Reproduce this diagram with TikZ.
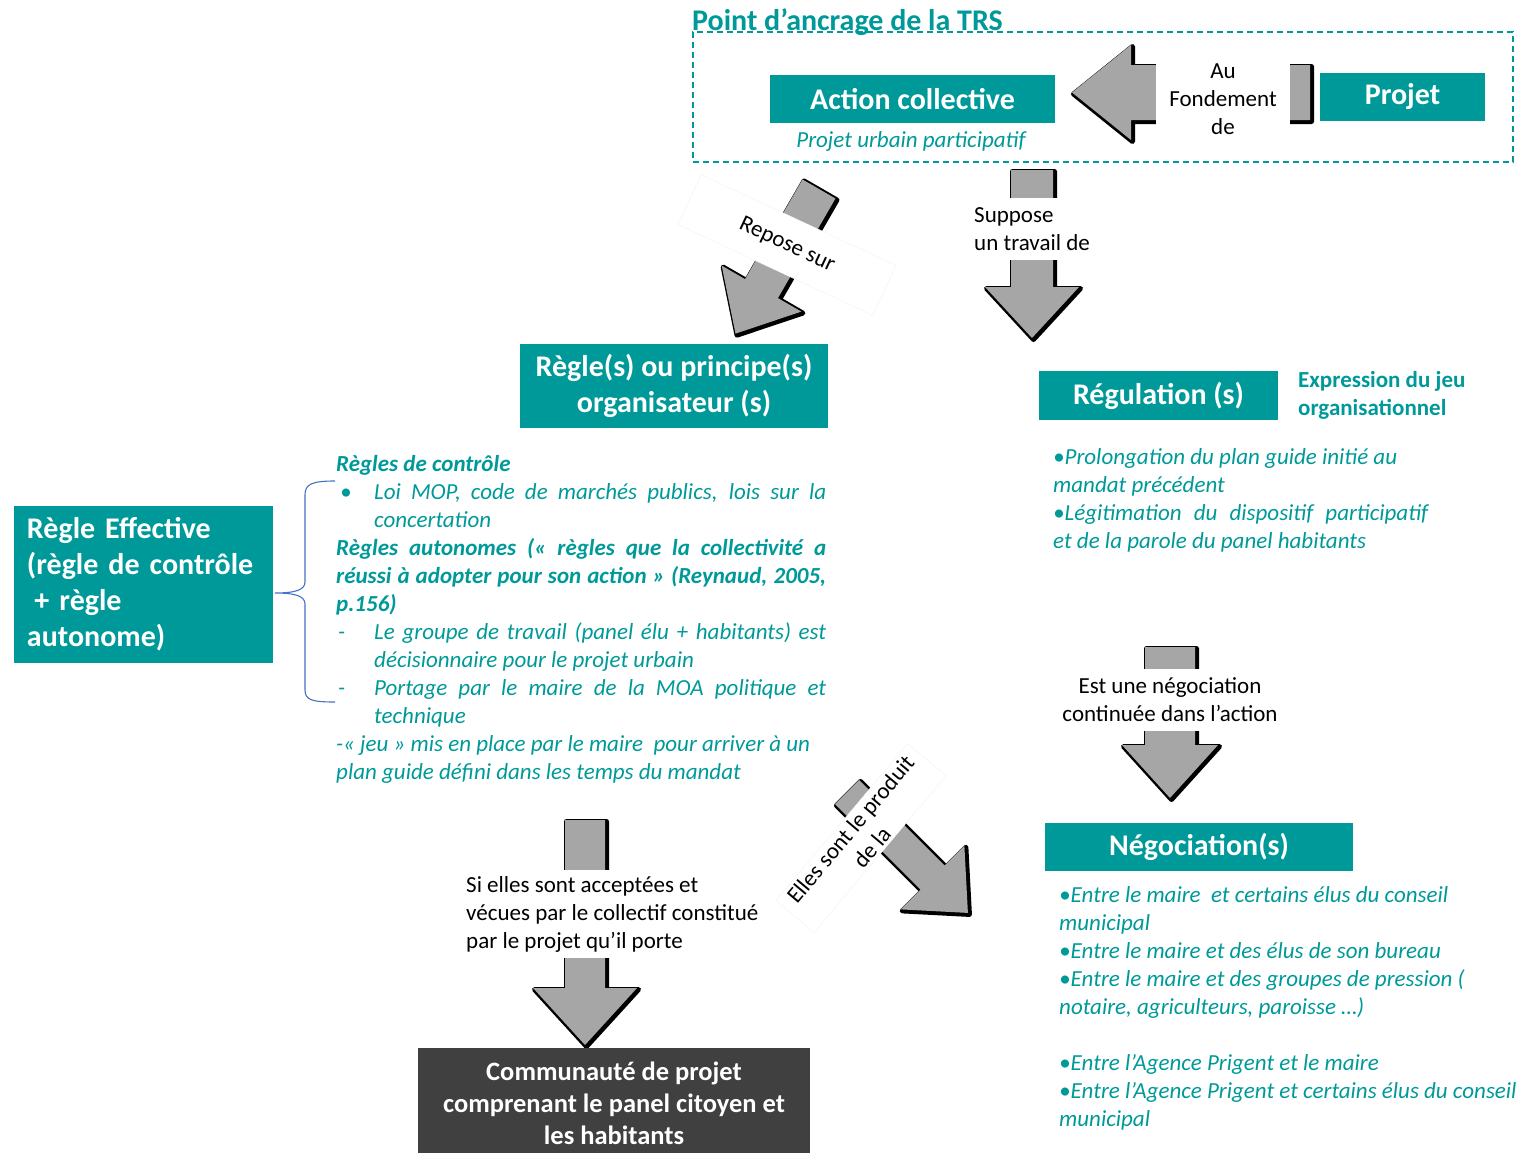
\documentclass[tikz,border=0pt]{standalone}
\usepackage{fontspec}
\setmainfont{Carlito}
\definecolor{tealc}{HTML}{009999}
\definecolor{arrgray}{HTML}{A6A6A6}
\definecolor{darkbox}{HTML}{404040}
\definecolor{bracec}{HTML}{4472C4}
\newcommand{\garrow}[7]{%
  \begin{scope}[shift={(#1+1.5,#2+1.5)},rotate=#3]
    \filldraw[black,line width=5pt,line join=round] (-#5,0) -- (#5,0) -- (#5,#4-#7) -- (#6,#4-#7) -- (0,#4) -- (-#6,#4-#7) -- (-#5,#4-#7) -- cycle;
  \end{scope}
  \begin{scope}[shift={(#1,#2)},rotate=#3]
    \fill[arrgray] (-#5,0) -- (#5,0) -- (#5,#4-#7) -- (#6,#4-#7) -- (0,#4) -- (-#6,#4-#7) -- (-#5,#4-#7) -- cycle;
  \end{scope}}
\tikzset{
  tbox/.style={fill=tealc, text=white, font=\fontsize{30}{36}\selectfont\bfseries, inner sep=0, align=center},
  tl/.style={anchor=base west, inner sep=0, text=tealc, font=\fontsize{23}{28}\selectfont\itshape},
  tlb/.style={tl, font=\fontsize{23}{28}\selectfont\bfseries\itshape},
  lab/.style={fill=white, inner sep=0, text=black, font=\fontsize{23}{28}\selectfont},
}
\begin{document}
\begin{tikzpicture}[x=1pt,y=-1pt]
\useasboundingbox (0,0) rectangle (1524,1152);
% title and frame
\node[anchor=base west, inner sep=0, text=tealc, font=\fontsize{30}{34}\selectfont\bfseries] (title) at (692,30) {Point d’ancrage de la TRS};
\node[draw=tealc, dash pattern=on 6pt off 4pt, line width=1.2pt, minimum width=820, minimum height=130, inner sep=0] (frame) at (1103,97) {};
% arrows
\garrow{1310}{92.5}{-90}{238}{27.5}{47.5}{59}
\garrow{819}{189}{-30}{167}{19}{46}{52}
\garrow{1032}{170}{0}{168}{21}{47}{51}
\garrow{1170}{647}{0}{151}{25}{48}{53}
\garrow{847}{792}{45}{171}{17}{45}{50}
\garrow{585}{820}{0}{225}{20}{52}{57}
% boxes
\node[tbox, minimum width=285, minimum height=48] (actcoll) at (912.5,99) {Action collective};
\node[tl, anchor=center] (pup) at (911,141) {Projet urbain participatif};
\node[tbox, minimum width=165, minimum height=48] (projet) at (1402.5,97) {Projet};
\node[tbox, minimum width=308, minimum height=84] (regles) at (674,386) {Règle(s) ou principe(s)\\organisateur (s)};
\node[tbox, minimum width=239, minimum height=49] (regul) at (1158.5,395.5) {Régulation (s)};
\node[tbox, minimum width=308, minimum height=48] (negoc) at (1199,847) {Négociation(s)};
\node[tbox, minimum height=157, text width=233pt, inner xsep=13pt, align=left] (regeff) at (143.5,584.5) {Règle Effective\\(règle de contrôle\\\hspace*{0.25em}+ règle\\autonome)};
\node[fill=darkbox, text=white, font=\fontsize{26.5}{32}\selectfont\bfseries, align=center, minimum width=392, minimum height=110, inner sep=0] (comm) at (614,1103) {Communauté de projet\\comprenant le panel citoyen et\\les habitants};
% labels on arrows
\node[lab, minimum width=134, minimum height=112, align=center] (fond) at (1223,99) {Au\\Fondement\\de};
\node[lab, anchor=west, inner ysep=9pt, align=left] (suppose) at (974,229) {Suppose\\un travail de};
\node[lab, inner ysep=9pt, align=center] (estune) at (1170,700) {Est une négociation\\continuée dans l’action};
\node[lab, anchor=west, inner ysep=6pt, align=left] (sielles) at (466,914) {Si elles sont acceptées et\\vécues par le collectif constitué\\par le projet qu’il porte};
\node[lab, draw=black!5, rotate=-25, minimum width=215, minimum height=55] (repose) at (787,245) {Repose sur};
\node[lab, draw=black!5, rotate=50, align=center, minimum width=205, minimum height=50] (elles) at (861,838) {Elles sont le produit\\de la};
% brace
\draw[bracec, line width=1.1pt] (335,481) .. controls (312,481) and (305,484) .. (305,495) -- (305,582) .. controls (305,590) and (295,593) .. (275,593) .. controls (295,593) and (305,596) .. (305,604) -- (305,690) .. controls (305,700) and (312,702) .. (335,702);
% left text block
\node[tlb] (l1) at (336,471) {Règles de contrôle};
\node[tl] (l2b) at (340,499) {•};
\node[tl] (l2) at (374,499) {\makebox[452pt][s]{Loi MOP, code de marchés publics, lois sur la}};
\node[tl] (l3) at (374,527) {concertation};
\node[tlb] (l4) at (336,555) {\makebox[490pt][s]{Règles autonomes (« règles que la collectivité a}};
\node[tlb] (l5) at (336,583) {\makebox[490pt][s]{réussi à adopter pour son action » (Reynaud, 2005,}};
\node[tlb] (l6) at (336,611) {p.156)};
\node[tl] (l7b) at (338,639) {-};
\node[tl] (l7) at (374,639) {\makebox[452pt][s]{Le groupe de travail (panel élu + habitants) est}};
\node[tl] (l8) at (374,667) {décisionnaire pour le projet urbain};
\node[tl] (l9b) at (338,695) {-};
\node[tl] (l9) at (374,695) {\makebox[452pt][s]{Portage par le maire de la MOA politique et}};
\node[tl] (l10) at (374,723) {technique};
\node[tl] (l11) at (336,751) {-« jeu » mis en place par le maire\ \ pour arriver à un};
\node[tl] (l12) at (336,779) {plan guide défini dans les temps du mandat};
% expression
\node[tl, font=\fontsize{23}{28}\selectfont\bfseries] (ex1) at (1298,387) {Expression du jeu};
\node[tl, font=\fontsize{23}{28}\selectfont\bfseries] (ex2) at (1298,415) {organisationnel};
% regulation bullets
\node[tl] (r1) at (1053,464) {•Prolongation du plan guide initié au};
\node[tl] (r2) at (1053,492) {mandat précédent};
\node[tl] (r3) at (1053,520) {\makebox[375pt][s]{•Légitimation du dispositif participatif}};
\node[tl] (r4) at (1053,548) {et de la parole du panel habitants};
% negociation bullets
\node[tl] (n1) at (1059,902) {•Entre le maire\ \ et certains élus du conseil};
\node[tl] (n2) at (1059,930) {municipal};
\node[tl] (n3) at (1059,958) {•Entre le maire et des élus de son bureau};
\node[tl] (n4) at (1059,986) {•Entre le maire et des groupes de pression (};
\node[tl] (n5) at (1059,1014) {notaire, agriculteurs, paroisse …)};
\node[tl] (n6) at (1059,1070) {•Entre l’Agence Prigent et le maire};
\node[tl] (n7) at (1059,1098) {•Entre l’Agence Prigent et certains élus du conseil};
\node[tl] (n8) at (1059,1126) {municipal};
\end{tikzpicture}
\end{document}
